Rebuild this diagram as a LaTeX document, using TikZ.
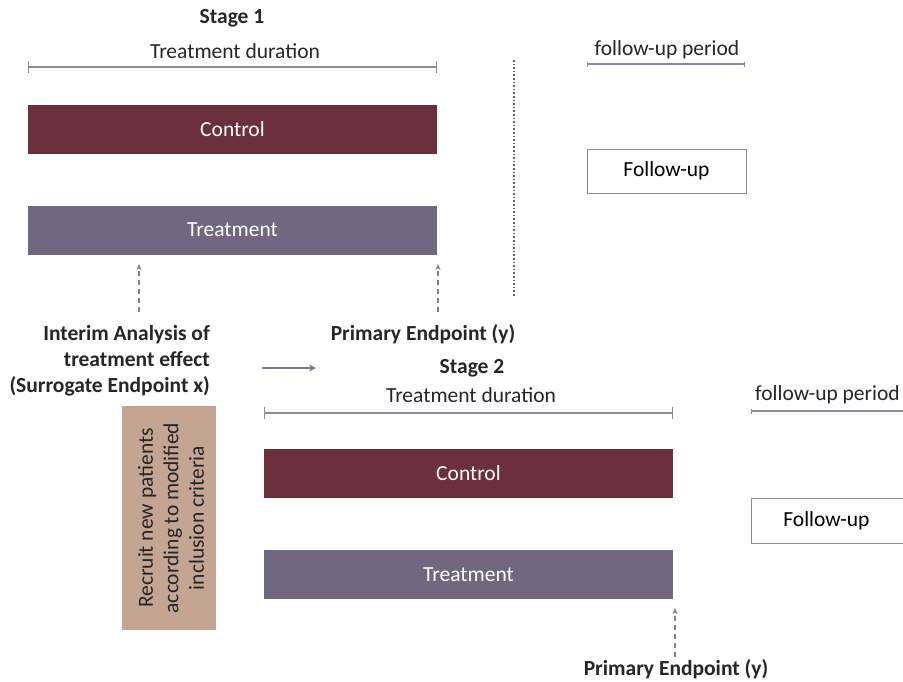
\documentclass[tikz,border=0pt]{standalone}
\usepackage{fontspec}
\setmainfont{Carlito}
\usetikzlibrary{arrows.meta}
\definecolor{ctrl}{HTML}{6C2F3C}
\definecolor{trt}{HTML}{6E6880}
\definecolor{recr}{HTML}{C3A592}
\definecolor{brk}{HTML}{8E8AA4}
\definecolor{fubord}{HTML}{8E8E96}
\tikzset{
  bar/.style={draw=none, minimum height=49pt, text=white, font=\fontsize{21.5}{24}\selectfont, inner sep=0pt},
  fubox/.style={draw=fubord, line width=0.8pt, fill=white, font=\fontsize{21.5}{24}\selectfont, inner sep=0pt},
  lbl/.style={font=\fontsize{21.5}{24}\selectfont, inner sep=0pt, text=black!85},
  blbl/.style={font=\bfseries\fontsize{21.5}{26}\selectfont, inner sep=0pt, text=black!85},
  span/.style={draw=brk, line width=1.4pt, {Bar[width=12pt]}-{Bar[width=12pt]}},
  sspan/.style={draw=brk, line width=1.2pt, {Bar[width=5pt]}-{Bar[width=5pt]}},
  dasharrow/.style={draw=brk!90!black, line width=1.2pt, dashed, dash pattern=on 5pt off 4pt, -{Stealth[length=6pt,width=5pt]}},
}
\begin{document}
\begin{tikzpicture}[x=1pt,y=-1pt]
\useasboundingbox (0,0) rectangle (903,681);
% Stage 1
\node[blbl] (s1) at (232,18.5) {Stage 1};
\node[lbl] (td1) at (235,51) {Treatment duration};
\coordinate (b1l) at (28,67); \coordinate (b1r) at (437,67);
\draw[span] (b1l) -- (b1r);
\node[bar, fill=ctrl, minimum width=409pt] (c1) at (232.5,129.5) {Control};
\node[bar, fill=trt, minimum width=409pt] (t1) at (232.5,230) {Treatment};
\draw[dotted, line width=1.6pt, draw=black!60] (514,60) coordinate (dv1) -- (514,296) coordinate (dv2);
\node[lbl] (fp1) at (667,49.5) {follow-up period};
\coordinate (f1l) at (587,64); \coordinate (f1r) at (745,64);
\draw[sspan] (f1l) -- (f1r);
\node[fubox, minimum width=159pt, minimum height=44pt] (fu1) at (666.5,171) {Follow-up};
% endpoints stage 1
\node[blbl, align=right, anchor=north east] (ia) at (210,325) {Interim Analysis of\\treatment effect\\(Surrogate Endpoint x)};
\coordinate (ia1) at (139,312);
\draw[dasharrow] (ia1) -- (139,264);
\node[blbl] (pe1) at (423,334.5) {Primary Endpoint (y)};
\coordinate (pe1t) at (438,312);
\draw[dasharrow] (pe1t) -- (438,264);
% arrow
\coordinate (a1) at (262,368); \coordinate (a2) at (316,368);
\draw[draw=brk!90!black, line width=1.4pt, -{Stealth[length=7pt,width=7pt]}] (a1) -- (a2);
% Stage 2
\node[blbl] (s2) at (472,368.5) {Stage 2};
\node[lbl] (td2) at (471,395) {Treatment duration};
\coordinate (b2l) at (264,413); \coordinate (b2r) at (673,413);
\draw[span] (b2l) -- (b2r);
\node[bar, fill=ctrl, minimum width=409pt] (c2) at (468.5,473.5) {Control};
\node[bar, fill=trt, minimum width=409pt] (t2) at (468.5,574.5) {Treatment};
\node[fill=recr, minimum width=94pt, minimum height=224pt, inner sep=0pt] (rc) at (169,518) {};
\node[rotate=90, align=center, font=\fontsize{21.5}{25.5}\selectfont, text=black!85] (rct) at ([xshift=2pt]rc.center) {Recruit new patients\\according to modified\\inclusion criteria};
\node[lbl, anchor=west] (fp2) at (755,394.5) {follow-up period};
\coordinate (f2l) at (751,411); \coordinate (f2r) at (906,411);
\draw[draw=brk, line width=1.2pt, {Bar[width=5pt]}-] (f2l) -- (f2r);
\node[fubox, minimum width=160pt, minimum height=45pt, anchor=west] (fu2) at (751,520.5) {\hspace*{-2pt}Follow-up\hspace*{8pt}};
\coordinate (pe2t) at (675,657);
\draw[dasharrow] (pe2t) -- (675,608);
\node[blbl] (pe2) at (676,669.5) {Primary Endpoint (y)};
\end{tikzpicture}
\end{document}
